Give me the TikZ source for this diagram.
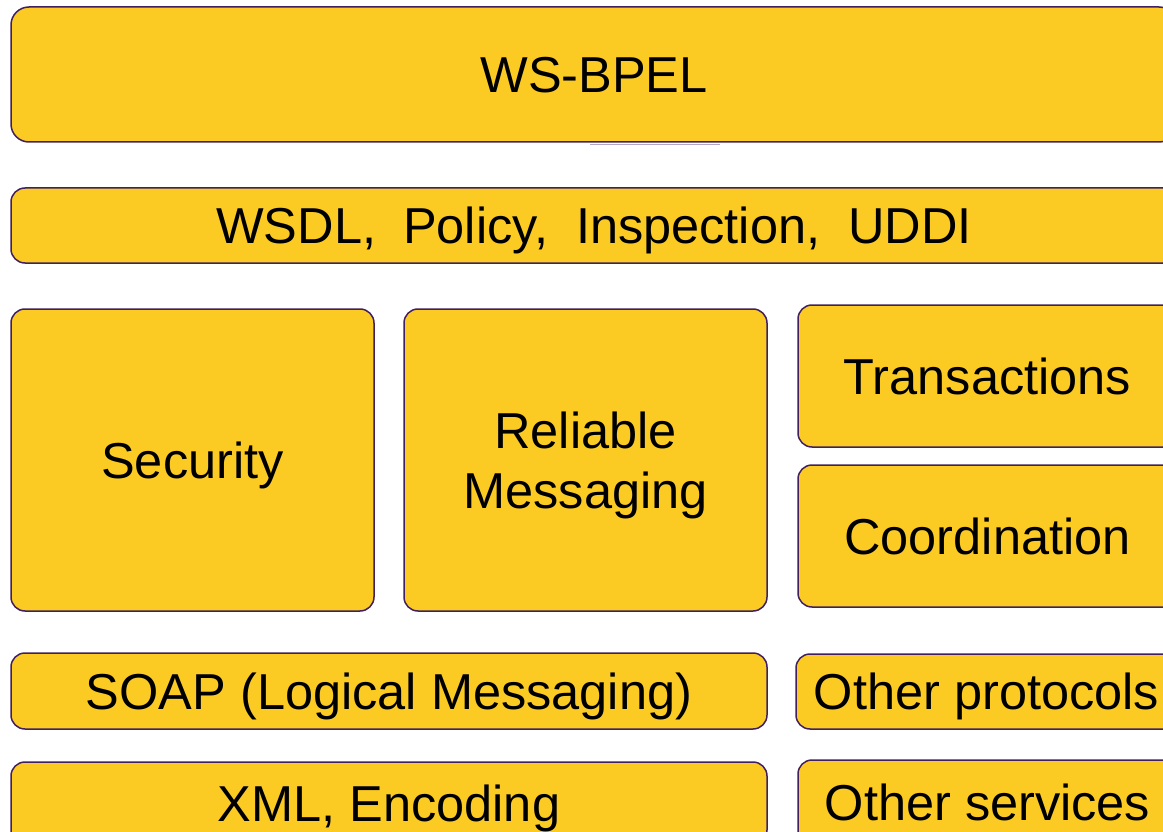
\documentclass[tikz,border=0pt]{standalone}
\usepackage{fontspec}
\setmainfont{Liberation Sans}
\usetikzlibrary{positioning}
\definecolor{layerfill}{RGB}{252,203,35}
\definecolor{layerdraw}{RGB}{64,32,96}
\begin{document}
\begin{tikzpicture}[x=1pt, y=-1pt]
        \tikzstyle{layer} = [rectangle, draw=layerdraw, line width=1.5pt, fill=layerfill, text centered, align=center, rounded corners=14pt, text depth=-4pt, font=\fontsize{50.5}{60}\selectfont, inner sep=0pt]
        \tikzstyle{shade} = [draw=layerdraw!40, line width=1pt]

        \useasboundingbox (0,0) rectangle (1163,832);
        \clip (0,0) rectangle (1163,832);

        \node [layer, rounded corners=18pt, minimum width=1166pt, minimum height=135pt] (bpel) at (594,74.5) {WS-BPEL};
        \node [layer, minimum width=1166pt, minimum height=75pt] (wsdl) at (594,225.5) {WSDL,\hspace{27pt}Policy,\hspace{28pt}Inspection,\hspace{28pt}UDDI};
        \node [layer, minimum width=363pt, minimum height=302pt] (security) at (192.5,460) {Security};
        \node [layer, minimum width=363pt, minimum height=302pt] (reliable) at (585.5,460) {Reliable\\Messaging};
        \node [layer, minimum width=379pt, minimum height=142pt] (trans) at (987.5,376) {Transactions};
        \node [layer, minimum width=379pt, minimum height=142pt] (coord) at (987.5,536) {Coordination};
        \node [layer, minimum width=756pt, minimum height=76pt] (soap) at (389,691) {SOAP (Logical Messaging)};
        \node [layer, minimum width=381pt, minimum height=75pt] (otherprot) at (986.5,691.5) {Other protocols};
        \node [layer, minimum width=756pt, minimum height=82pt] (xml) at (389,803) {XML, Encoding};
        \node [layer, minimum width=379pt, minimum height=84pt] (otherserv) at (987.5,802) {Other services};

        \draw [shade] ([xshift=-4pt, yshift=-1.5pt]bpel.south) -- ([xshift=126pt, yshift=-1.5pt]bpel.south);
    \end{tikzpicture}
\end{document}
